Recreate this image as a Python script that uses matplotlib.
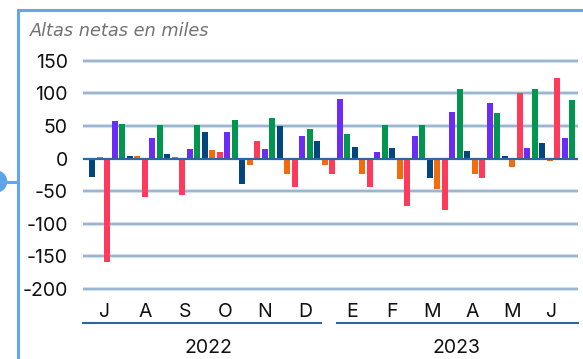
import numpy as np
import matplotlib
matplotlib.use("Agg")
import matplotlib.pyplot as plt
from matplotlib.lines import Line2D
from matplotlib.patches import Circle
from matplotlib.transforms import blended_transform_factory

# Monthly net additions (thousands), one value per month for each series
months = ["J", "A", "S", "O", "N", "D", "E", "F", "M", "A", "M", "J"]
years = ["2022", "2023"]
series_navy = [-29, 4, 7, 40, -39, 50, 27, 17, 16, -30, 11, 4, 24]
series_orange = [2, 4, 2, 13, -10, -24, -10, -24, -32, -47, -24, -13, -4]
series_red = [-158, -59, -56, 10, 27, -44, -23, -43, -72, -79, -30, 100, 124]
series_purple = [57, 31, 14, 40, 14, 34, 91, 10, 34, 71, 85, 16, 31]
series_green = [53, 51, 51, 59, 62, 45, 37, 51, 51, 107, 70, 107, 90]
y_ticks = [150, 100, 50, 0, -50, -100, -150, -200]

series = [series_navy, series_orange, series_red, series_purple, series_green]
colors = ["#03467f", "#f26c0d", "#ff3a5c", "#6c2bf6", "#00964f"]

W, H = 583, 359
fig = plt.figure(figsize=(W / 100, H / 100), dpi=100)


def fx(px):
    return px / W


def fy(py):
    return 1 - py / H


# axes frame in pixels
ax_l, ax_r = 83, 578
ax_t, ax_b = 57.4, 292.3
ax = fig.add_axes([fx(ax_l), fy(ax_b), fx(ax_r - ax_l), fy(ax_t) - fy(ax_b)])

n_series = len(series)
n_groups = len(series_navy)
for s, (vals, col) in enumerate(zip(series, colors)):
    pos = np.arange(n_groups) * n_series + s
    ax.bar(pos, vals, width=0.8, color=col, zorder=3, linewidth=0)

ax.set_xlim(-1.2, n_series * n_groups - 0.2)
ax.set_ylim(-205, 155)

# horizontal grid
for v in y_ticks:
    if v == 0:
        continue
    ax.axhline(v, color="#d3e0ec", lw=3.0, zorder=1)
    ax.axhline(v, color="#8aaacb", lw=1.1, zorder=1)
ax.axhline(0, color="#2c67a3", lw=1.6, zorder=4)

for sp in ax.spines.values():
    sp.set_visible(False)
ax.set_xticks([])
ax.set_yticks(y_ticks)
ax.set_yticklabels([str(v) for v in y_ticks])
ax.tick_params(axis="y", length=0, pad=11, labelsize=14, labelcolor="#111111")
for t in ax.get_yticklabels():
    t.set_fontfamily(["Inter", "DejaVu Sans"])

# month labels and year bands
tr = blended_transform_factory(ax.transAxes, fig.transFigure)
span = ax_r - ax_l
year_start_px = [105, 352]
for yi in range(2):
    for k in range(6):
        xp = year_start_px[yi] + 40 * k
        ax.text((xp - ax_l) / span, fy(316.7), months[yi * 6 + k], transform=tr,
                ha="center", va="baseline", fontsize=14, color="#111111",
                family=["Inter", "DejaVu Sans"])

year_lines = [(83, 321), (337, 578)]
year_centers = [208, 456]
for (a, b), c, lab in zip(year_lines, year_centers, years):
    ax.add_line(Line2D([(a - ax_l) / span, (b - ax_l) / span], [fy(323.3)] * 2,
                       transform=tr, color="#2c67a3", lw=1.5, clip_on=False))
    ax.text((c - ax_l) / span, fy(353.3), lab, transform=tr, ha="center",
            va="baseline", fontsize=14, color="#111111",
            family=["Inter", "DejaVu Sans"])

# title
fig.text(fx(29.5), fy(35.5), "Altas netas en miles", ha="left", va="baseline",
         fontsize=12.8, style="italic", color="#727272",
         family=["DejaVu Sans"])

# selection frame with handle
frame_col = "#63a6ee"
fig.add_artist(Line2D([fx(18), fx(18)], [fy(10), fy(H)], color=frame_col, lw=2.2))
fig.add_artist(Line2D([fx(18), fx(W)], [fy(10), fy(10)], color=frame_col, lw=2.2))
fig.add_artist(Line2D([fx(0), fx(18)], [fy(181.5), fy(181.5)], color=frame_col, lw=2.2))
fig.add_artist(Circle((-4, H - 181.5), 10.5, transform=None, color="#5aa2ee"))

fig.savefig("out.png", dpi=100)
